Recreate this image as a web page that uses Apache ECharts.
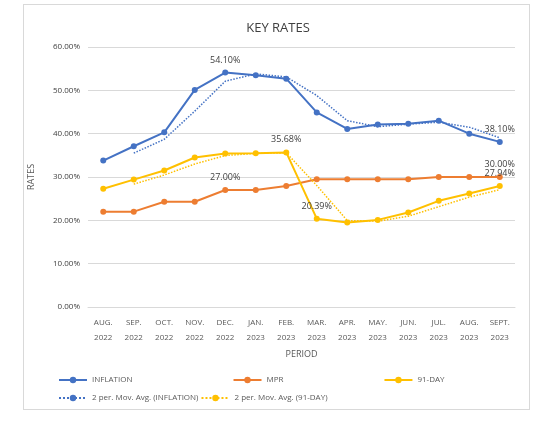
<!DOCTYPE html><html><head><meta charset="utf-8"><script src="https://cdn.jsdelivr.net/npm/echarts@6/dist/echarts.min.js"></script>
<style>html,body{margin:0;background:#fff}#c{width:556px;height:431px}#b{position:absolute;left:23px;top:4px;width:505px;height:404px;border:1px solid #d9d9d9}</style></head><body><div id="b"></div><div id="c"></div><script>
const categories=['AUG.\n2022','SEP.\n2022','OCT.\n2022','NOV.\n2022','DEC.\n2022','JAN.\n2023','FEB.\n2023','MAR.\n2023','APR.\n2023','MAY.\n2023','JUN.\n2023','JUL.\n2023','AUG.\n2023','SEPT.\n2023'];
const inflation=[33.8,37.1,40.3,50.1,54.1,53.5,52.7,44.9,41.1,42.1,42.3,43.0,40.0,38.1];
const mpr=[22.0,22.0,24.3,24.3,27.0,27.0,27.9,29.5,29.5,29.5,29.5,30.0,30.0,30.0];
const tbill=[27.3,29.4,31.5,34.5,35.4,35.5,35.68,20.39,19.5,20.1,21.8,24.5,26.2,27.94];
const infMA=[null,35.5,38.7,45.2,52.1,53.8,53.1,48.8,43.0,41.6,42.2,42.65,41.5,39.05];
const tbMA=[null,28.35,30.45,33.0,34.95,35.45,35.59,28.04,19.95,19.8,20.95,23.15,25.35,27.07];
const infLbl=[4,13], mprLbl=[4,13], tbLbl=[6,7,13];
const lf={fontFamily:'Open Sans',fontSize:9,color:'#404040'};
function mk(arr,idx){return arr.map((v,i)=>idx.includes(i)?{value:v,label:{show:true,position:'top',formatter:p=>p.value.toFixed(2)+'%',...lf}}:v);}
const c=echarts.init(document.getElementById('c'));
const lt={fontSize:8,color:'#595959'};
c.setOption({animation:false,textStyle:{fontFamily:'Open Sans'},
title:{text:'KEY RATES',left:'center',top:17,textStyle:{fontSize:13,fontWeight:'normal',color:'#404040',fontFamily:'Open Sans'}},
grid:{left:88,right:41,top:47,bottom:124},
xAxis:{type:'category',data:categories,name:'PERIOD',nameLocation:'middle',nameGap:40,nameTextStyle:{fontSize:9,color:'#595959'},axisLine:{lineStyle:{color:'#d9d9d9'}},axisTick:{show:false},axisLabel:{fontSize:8,color:'#595959',interval:0,lineHeight:15}},
yAxis:{type:'value',min:0,max:60,interval:10,name:'RATES',nameLocation:'middle',nameGap:52,nameTextStyle:{fontSize:9,color:'#595959'},axisLabel:{formatter:v=>v.toFixed(2)+'%',fontSize:8,color:'#404040'},splitLine:{lineStyle:{color:'#d9d9d9'}}},
legend:[
{left:53,top:371,itemGap:100,itemWidth:28,itemHeight:8,textStyle:lt,data:['INFLATION','MPR','91-DAY']},
{left:53,top:389,itemGap:2,itemWidth:28,itemHeight:8,textStyle:lt,data:['2 per. Mov. Avg. (INFLATION)','2 per. Mov. Avg. (91-DAY)']}],
series:[
{name:'INFLATION',type:'line',data:mk(inflation,infLbl),color:'#4472C4',symbol:'circle',symbolSize:6,lineStyle:{width:2}},
{name:'MPR',type:'line',data:mk(mpr,mprLbl),color:'#ED7D31',symbol:'circle',symbolSize:6,lineStyle:{width:2}},
{name:'91-DAY',type:'line',data:mk(tbill,tbLbl),color:'#FFC000',symbol:'circle',symbolSize:6,lineStyle:{width:2}},
{name:'2 per. Mov. Avg. (INFLATION)',type:'line',data:infMA,color:'#4472C4',symbol:'none',lineStyle:{width:1.5,type:'dotted'}},
{name:'2 per. Mov. Avg. (91-DAY)',type:'line',data:tbMA,color:'#FFC000',symbol:'none',lineStyle:{width:1.5,type:'dotted'}}
]});
</script></body></html>
